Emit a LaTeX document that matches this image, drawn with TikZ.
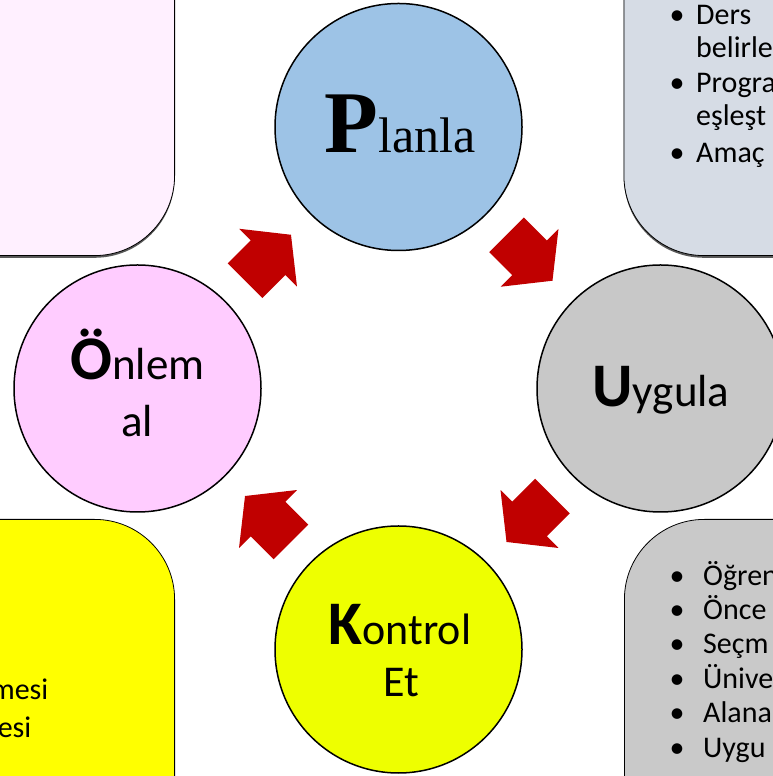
\documentclass[tikz,border=0pt]{standalone}
\usepackage{fontspec}
\setmainfont{Carlito}
\newfontfamily\serifT{Liberation Serif}
\usetikzlibrary{calc,shadows}
\definecolor{planblue}{HTML}{9DC3E6}
\definecolor{uygray}{HTML}{C8C8C8}
\definecolor{kontyellow}{HTML}{EEFF00}
\definecolor{onlempink}{HTML}{FFCCFF}
\definecolor{boxTL}{HTML}{FFF0FF}
\definecolor{boxTR}{HTML}{D6DCE5}
\definecolor{boxBR}{HTML}{C9C9C9}
\definecolor{boxBL}{HTML}{FFFF00}
\definecolor{arrowred}{HTML}{C00000}
\tikzset{
  blockarrow/.pic={\fill[arrowred] (-32.5,-24.5) -- (0,-24.5) -- (0,-41) -- (32.5,0) -- (0,41) -- (0,24.5) -- (-32.5,24.5) -- cycle;}
}
\begin{document}
\begin{tikzpicture}[x=1pt,y=1pt,
  stage/.style={circle, draw=black, line width=1.5pt, minimum size=247pt, inner sep=0pt},
  panel/.style={draw=black, line width=0.8pt, rounded corners=80pt, inner sep=0pt, minimum width=320pt, minimum height=380pt},
  shadowed/.style={drop shadow={shadow xshift=0pt, shadow yshift=-2.2pt, fill=black!65, opacity=1}},
  bul/.style={font=\fontsize{30}{36}\selectfont, anchor=base, inner sep=0pt},
  itemtext/.style={font=\fontsize{30}{36}\selectfont, anchor=base west, inner sep=0pt},
  endtext/.style={font=\fontsize{30}{36}\selectfont, anchor=base east, inner sep=0pt},
  big/.style={inner sep=0pt, anchor=base}
]
\useasboundingbox (0,0) rectangle (772,776);
% panels
\node[panel, shadowed, fill=boxTL, anchor=south east] (pTL) at (175,520) {};
\node[panel, shadowed, fill=boxTR, anchor=south west] (pTR) at (623.5,520) {};
\node[panel, fill=boxBR, anchor=north west] (pBR) at (624,257) {};
\node[panel, fill=boxBL, anchor=north east] (pBL) at (175,257) {};
% top-right panel text
\node[bul] (b1) at (677,751) {•};
\node[itemtext] (t1) at (696,751) {Ders};
\node[itemtext] (t2) at (696,718) {belirle};
\node[bul] (b2) at (677,683) {•};
\node[itemtext] (t3) at (696,683) {Progra};
\node[itemtext] (t4) at (696,650) {eşleşt};
\node[bul] (b3) at (677,613) {•};
\node[itemtext] (t5) at (696,613) {Amaç};
% bottom-right panel text
\node[bul] (c1) at (677,190) {•};
\node[itemtext] (u1) at (703,190) {Öğren};
\node[bul] (c2) at (677,156) {•};
\node[itemtext] (u2) at (703,156) {Önce};
\node[bul] (c3) at (677,122) {•};
\node[itemtext] (u3) at (703,122) {Seçm};
\node[bul] (c4) at (677,87.5) {•};
\node[itemtext] (u4) at (703,87.5) {Ünive};
\node[bul] (c5) at (677,53) {•};
\node[itemtext] (u5) at (703,53) {Alana};
\node[bul] (c6) at (677,18) {•};
\node[itemtext] (u6) at (703,18) {Uygu};
% bottom-left panel text
\node[endtext] (v1) at (48.5,76) {mesi};
\node[endtext] (v2) at (31.5,38) {esi};
% circles
\node[stage, fill=planblue] (P) at (398.5,649) {};
\node[stage, fill=uygray] (U) at (660.5,387.5) {};
\node[stage, fill=kontyellow] (K) at (398.5,126.5) {};
\node[stage, fill=onlempink] (O) at (137.5,387.5) {};
% circle texts
\node[big] (Pt) at ($(P.center)+(1.5,-26)$) {\serifT\fontsize{88}{88}\selectfont\bfseries P\fontsize{50}{50}\selectfont\mdseries lanla};
\node[big] (Ut) at ($(U.center)+(0.5,-18.5)$) {\fontsize{62}{62}\selectfont\bfseries U\fontsize{45}{45}\selectfont\mdseries ygula};
\node[big] (Kt) at ($(K.center)+(1.5,4.5)$) {\fontsize{62}{62}\selectfont\bfseries K\fontsize{44}{44}\selectfont\mdseries ontrol};
\node[big] (Kt2) at ($(K.center)+(2.5,-47.5)$) {\fontsize{44}{44}\selectfont Et};
\node[big] (Ot) at ($(O.center)+(0,8.5)$) {\fontsize{62}{62}\selectfont\bfseries Ö\fontsize{45}{45}\selectfont\mdseries nlem};
\node[big] (Ot2) at ($(O.center)+(-0.5,-48.5)$) {\fontsize{45}{45}\selectfont al};
% block arrows between stages
\pic[rotate=-45] at ($(P)!0.5!(U)$) {blockarrow};
\pic[rotate=-135] at ($(U)!0.5!(K)$) {blockarrow};
\pic[rotate=135] at ($(K)!0.5!(O)$) {blockarrow};
\pic[rotate=45] at ($(O)!0.5!(P)$) {blockarrow};
\end{tikzpicture}
\end{document}
